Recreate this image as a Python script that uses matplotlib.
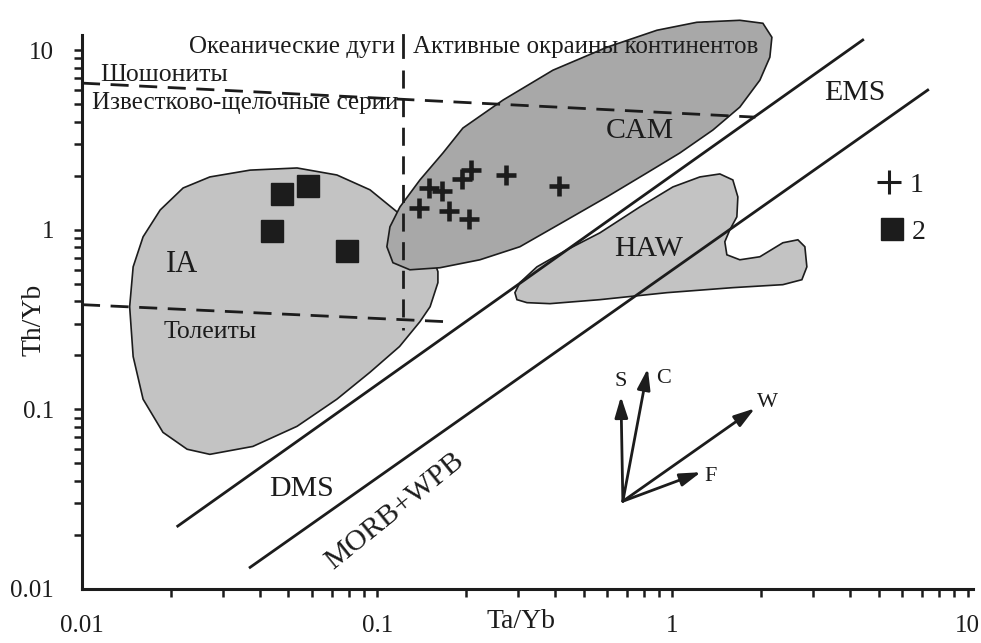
import matplotlib
matplotlib.use("Agg")
import matplotlib.pyplot as plt
import numpy as np

plt.rcParams['font.family'] = ['Liberation Serif', 'DejaVu Serif']

# ---------------- data (Ta/Yb, Th/Yb) ----------------
# group 1: crosses
g1_ta = [0.138, 0.150, 0.166, 0.175, 0.194, 0.207, 0.205, 0.272, 0.414]
g1_th = [1.32, 1.71, 1.65, 1.28, 1.92, 2.15, 1.15, 2.02, 1.76]
# group 2: squares
g2_ta = [0.0477, 0.0583, 0.044, 0.079]
g2_th = [1.58, 1.75, 0.99, 0.76]

# field outlines
ia_ta = [0.0220, 0.0271, 0.0371, 0.0535, 0.0730, 0.0945, 0.1166, 0.134, 0.153, 0.1605,
         0.1605, 0.151, 0.1395, 0.119, 0.0945, 0.073, 0.0535, 0.0379, 0.0271, 0.0227,
         0.0188, 0.0161, 0.0149, 0.0145, 0.0149, 0.0161, 0.0184]
ia_th = [1.71, 1.97, 2.15, 2.21, 2.02, 1.67, 1.26, 0.94, 0.73, 0.585,
         0.508, 0.373, 0.308, 0.224, 0.161, 0.114, 0.0805, 0.0622, 0.0562, 0.060,
         0.0745, 0.114, 0.197, 0.373, 0.622, 0.914, 1.29]

cam_ta = [0.1078, 0.1104, 0.1194, 0.1395, 0.1669, 0.195, 0.2665, 0.3936, 0.5996, 0.8856,
          1.209, 1.691, 2.024, 2.171, 2.137, 1.977, 1.691, 1.370, 1.059, 0.819,
          0.5996, 0.4389, 0.3042, 0.2227, 0.1631, 0.129, 0.113]
cam_th = [0.805, 1.039, 1.342, 1.896, 2.678, 3.687, 5.275, 7.743, 10.39, 12.92,
          14.31, 14.68, 14.13, 11.81, 9.146, 6.813, 4.824, 3.594, 2.678, 2.074,
          1.525, 1.136, 0.805, 0.681, 0.615, 0.599, 0.656]

haw_ta = [0.2926, 0.3042, 0.3474, 0.4389, 0.5677, 0.7757, 1.003, 1.238, 1.447, 1.601,
          1.665, 1.652, 1.564, 1.504, 1.528, 1.691, 1.977, 2.365, 2.659, 2.808,
          2.852, 2.743, 2.365, 1.601, 0.957, 0.5677, 0.3844, 0.3214, 0.2972]
haw_th = [0.4467, 0.508, 0.622, 0.774, 0.962, 1.342, 1.733, 1.97, 2.047, 1.896,
          1.525, 1.181, 1.0, 0.858, 0.726, 0.681, 0.708, 0.847, 0.880, 0.805,
          0.622, 0.5275, 0.495, 0.4764, 0.4467, 0.4084, 0.388, 0.393, 0.4084]

# boundary lines
upper_diag_ta = [0.0211, 4.41]
upper_diag_th = [0.0224, 11.4]
lower_diag_ta = [0.0371, 7.32]
lower_diag_th = [0.0132, 6.0]
shosh_ta = [0.01, 1.91]
shosh_th = [6.56, 4.24]
thol_ta = [0.01, 0.170]
thol_th = [0.383, 0.308]
arc_div_ta = 0.1225
arc_div_th = [7.74, 0.278]
arc_div_top_th = [12.1, 9.14]

# vector diagram
vec_names = ['S', 'C', 'W', 'F']
vec_origin = (0.679, 0.0308)
vec_tip_ta = [0.669, 0.825, 1.901, 1.248]
vec_tip_th = [0.118, 0.169, 0.1013, 0.0447]
vec_lab_ta = [0.669, 0.935, 2.104, 1.349]
vec_lab_th = [0.143, 0.1487, 0.1094, 0.0424]

x_ticks = [0.01, 0.1, 1, 10]
x_ticklabels = ['0.01', '0.1', '1', '10']
y_ticks = [0.01, 0.1, 1, 10]
y_ticklabels = ['0.01', '0.1', '1', '10']

# ---------------- figure ----------------
fig = plt.figure(figsize=(9.81, 6.43), dpi=100)
ax = fig.add_axes([0.0836, 0.0840, 0.908, 0.861])
ax.set_xscale('log')
ax.set_yscale('log')
ax.set_xlim(0.01, 10.4)
ax.set_ylim(0.01, 12.1)

ink = '#1c1c1c'
light = '#c3c3c3'
dark = '#a8a8a8'

ax.fill(ia_ta, ia_th, facecolor=light, edgecolor=ink, lw=1.2, zorder=1)
ax.fill(haw_ta, haw_th, facecolor=light, edgecolor=ink, lw=1.2, zorder=1)
ax.fill(cam_ta, cam_th, facecolor=dark, edgecolor=ink, lw=1.2, zorder=2, clip_on=False)

ax.plot(upper_diag_ta, upper_diag_th, color=ink, lw=2, zorder=3, clip_on=False)
ax.plot(lower_diag_ta, lower_diag_th, color=ink, lw=2, zorder=3, clip_on=False)

dash = (0, (6.5, 3.8))
ax.plot(shosh_ta, shosh_th, color=ink, lw=2, ls=dash, zorder=3)
ax.plot(thol_ta, thol_th, color=ink, lw=2, ls=dash, zorder=3)
ax.plot([arc_div_ta] * 2, arc_div_th, color=ink, lw=2, ls=dash, zorder=3)
ax.plot([arc_div_ta] * 2, arc_div_top_th, color=ink, lw=2, zorder=3, clip_on=False)

ax.plot(g1_ta, g1_th, ls='none', marker='+', ms=14, mew=3.3, color=ink, zorder=4)
ax.plot(g2_ta, g2_th, ls='none', marker='s', ms=15.5, color=ink, zorder=4)

for name, tx, ty, lx, ly in zip(vec_names, vec_tip_ta, vec_tip_th, vec_lab_ta, vec_lab_th):
    ax.annotate('', xy=(tx, ty), xytext=vec_origin,
                arrowprops=dict(arrowstyle='-|>,head_length=0.9,head_width=0.28',
                                lw=2, color=ink, shrinkA=0, shrinkB=0,
                                mutation_scale=14), zorder=4)
    ax.text(lx, ly, name, fontsize=16, color=ink, ha='center', va='center', zorder=5)

# labels in the field
tk = dict(color=ink, zorder=5)
ax.text(0.1148, 10.4, 'Океанические дуги', fontsize=18, ha='right', va='center', **tk)
ax.text(0.132, 10.4, 'Активные окраины континентов', fontsize=18, ha='left', va='center', **tk)
ax.text(0.01151, 7.26, 'Шошониты', fontsize=18.5, ha='left', va='center', **tk)
ax.text(0.01081, 5.08, 'Известково-щелочные серии', fontsize=18, ha='left', va='center', **tk)
ax.text(0.0218, 0.639, 'IA', fontsize=22, ha='center', va='center', **tk)
ax.text(0.0271, 0.2713, 'Толеиты', fontsize=18.5, ha='center', va='center', **tk)
ax.text(0.776, 3.548, 'CAM', fontsize=21.5, ha='center', va='center', **tk)
ax.text(0.832, 0.784, 'HAW', fontsize=21.5, ha='center', va='center', **tk)
ax.text(4.147, 5.77, 'EMS', fontsize=21.5, ha='center', va='center', **tk)
ax.text(0.0556, 0.0359, 'DMS', fontsize=21.5, ha='center', va='center', **tk)
ax.text(0.1148, 0.0271, 'MORB+WPB', fontsize=21.5, ha='center', va='center',
        rotation=39, rotation_mode='anchor', **tk)

# legend (manual)
ax.plot([0.9057], [0.7351], transform=ax.transAxes, marker='+', ms=17, mew=2.2,
        color=ink, ls='none', clip_on=False)
ax.text(0.9293, 0.7297, '1', transform=ax.transAxes, fontsize=20, ha='left', va='center', color=ink)
ax.plot([0.9091], [0.6505], transform=ax.transAxes, marker='s', ms=16.5,
        color=ink, ls='none', clip_on=False)
ax.text(0.9315, 0.6432, '2', transform=ax.transAxes, fontsize=20, ha='left', va='center', color=ink)

# axes styling
for s in ['top', 'right']:
    ax.spines[s].set_visible(False)
for s in ['left', 'bottom']:
    ax.spines[s].set_linewidth(2.2)
    ax.spines[s].set_color(ink)

ax.set_xticks(x_ticks)
ax.set_xticklabels(x_ticklabels)
ax.set_yticks(y_ticks)
ax.set_yticklabels(y_ticklabels)
ax.tick_params(which='both', direction='out', color=ink, width=1.8)
ax.tick_params(axis='x', which='both', length=6, pad=13, labelsize=18, labelcolor=ink)
ax.tick_params(axis='y', which='both', length=6, pad=14, labelsize=18, labelcolor=ink)
ax.xaxis.set_minor_formatter(matplotlib.ticker.NullFormatter())
ax.yaxis.set_minor_formatter(matplotlib.ticker.NullFormatter())
ax.xaxis.get_major_ticks()[0].tick1line.set_visible(False)
ax.yaxis.get_major_ticks()[0].tick1line.set_visible(False)

ax.set_xlabel('Ta/Yb', fontsize=20, color=ink)
ax.xaxis.set_label_coords(0.493, -0.036)
ax.set_ylabel('Th/Yb', fontsize=20, color=ink)
ax.yaxis.set_label_coords(-0.04, 0.4865)

fig.savefig('out.png', dpi=100)
